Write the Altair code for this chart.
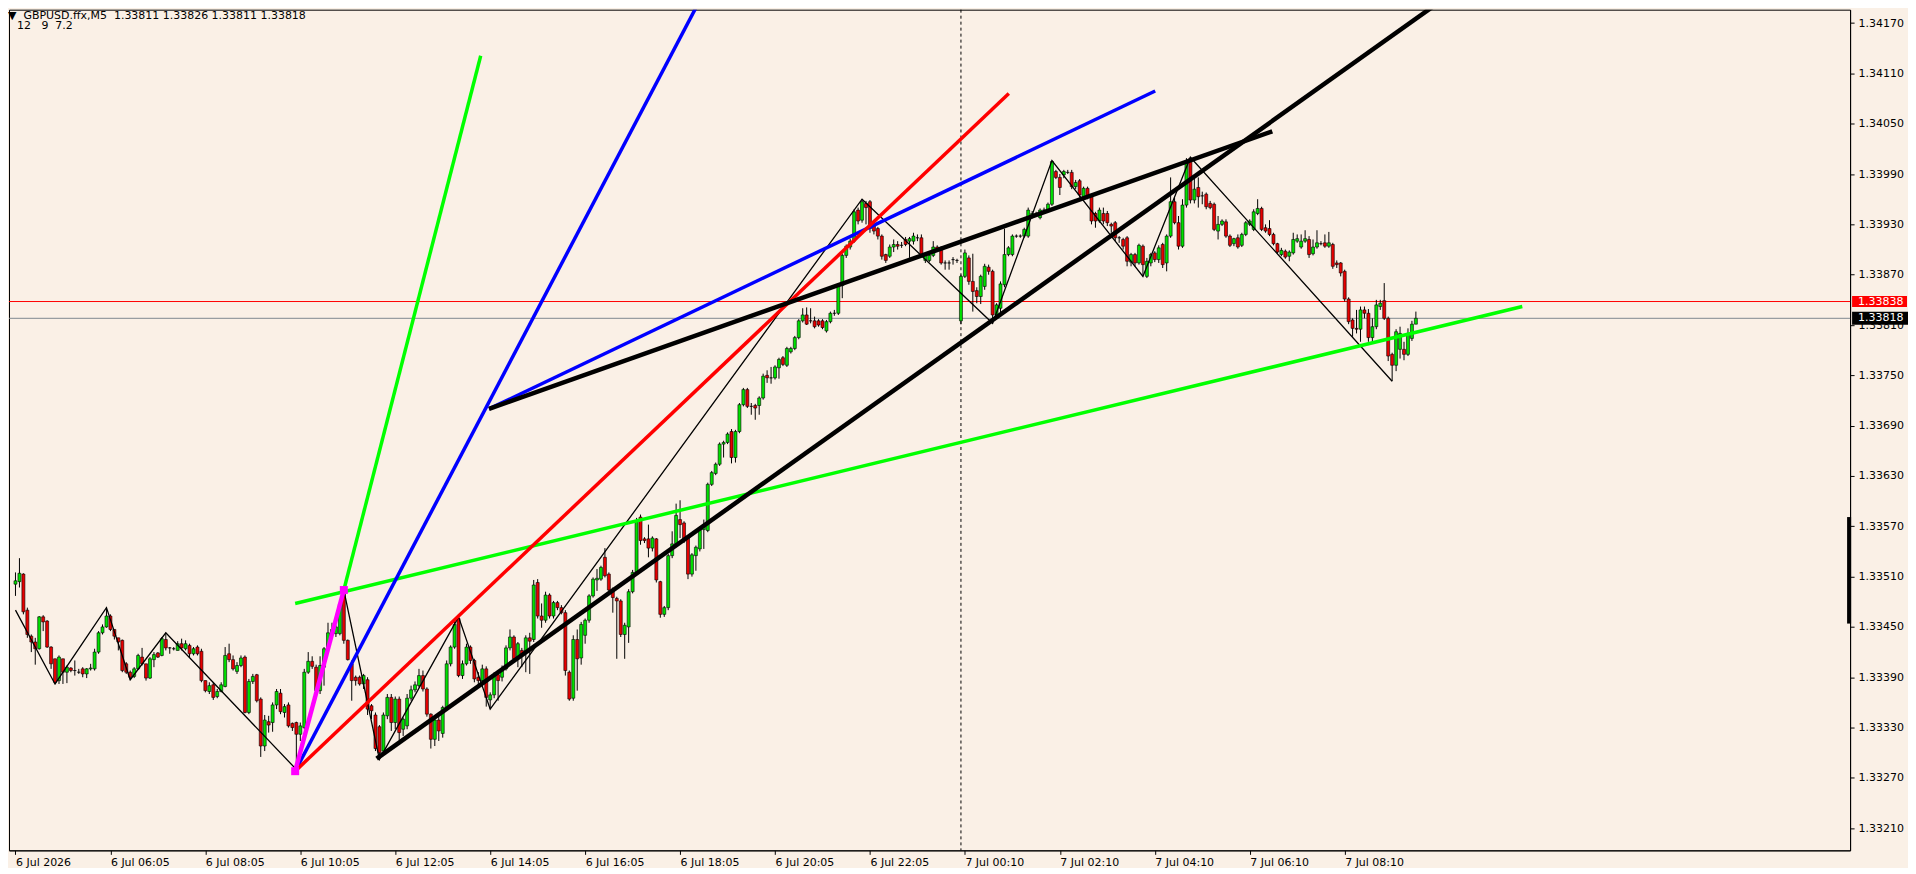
import altair as alt
import pandas as pd
import numpy as np

BASE = 1.33      # prices below are stored in points above 1.33000
PT = 1e-5

OPEN = [
501,504,513,470,439,432,424,462,457,426,
412,386,412,396,401,398,396,400,394,400,
400,420,443,450,463,447,437,434,406,396,
391,400,414,406,389,411,419,416,435,425,
424,422,430,424,428,418,426,421,386,373,
381,367,373,379,418,411,397,404,414,348,
385,393,364,308,337,336,357,371,348,357,
335,336,322,330,396,409,402,374,402,424,
442,442,442,489,434,406,390,390,382,387,
356,345,331,302,344,366,336,364,328,332,
365,375,380,392,376,346,316,339,323,354,
406,426,460,392,406,426,410,390,386,400,
363,369,393,390,400,425,438,412,422,421,
437,435,503,463,458,488,463,479,473,467,
396,365,435,413,440,458,487,506,507,533,
513,495,484,481,441,450,492,515,581,555,
555,544,555,504,465,473,535,549,578,574,
556,513,535,543,566,565,620,633,644,668,
670,683,652,683,715,733,713,714,714,723,
750,747,747,759,771,762,778,782,795,815,
822,815,815,815,815,803,814,824,824,857,
893,903,910,947,935,955,957,928,925,916,
894,892,903,906,905,912,910,910,914,914,
887,887,893,903,902,884,884,888,887,815,
868,890,862,851,844,856,879,874,822,830,
858,894,894,916,916,916,916,940,943,938,
947,947,954,993,986,989,992,992,975,982,
963,973,963,943,934,943,943,930,932,914,
912,914,885,894,884,904,868,884,896,888,
906,884,916,957,932,904,953,1009,959,974,
964,966,955,954,922,930,933,916,907,914,
905,918,930,924,943,949,926,925,918,907,
894,898,892,896,910,903,910,912,895,903,
907,908,904,906,884,884,874,841,816,806,
805,828,824,795,808,832,839,818,775,762,
781,781,775,794,811]

HIGH = [
515,532,514,473,441,437,463,464,458,427,
412,416,412,404,402,410,400,402,401,406,
424,445,453,473,465,447,437,435,408,398,
402,418,425,406,414,420,420,438,443,426,
426,433,436,434,430,426,428,424,386,384,
384,376,384,426,430,416,408,416,416,388,
394,394,366,345,344,360,376,376,358,360,
336,337,336,400,420,415,405,415,426,455,
455,452,480,494,435,410,392,392,394,390,
358,348,333,348,370,370,367,367,342,370,
380,385,400,398,378,347,342,345,356,410,
428,458,462,410,430,428,412,396,405,403,
372,396,396,404,428,447,440,432,425,440,
443,506,507,478,492,490,481,481,476,470,
398,440,447,456,460,489,509,519,523,544,
515,497,486,483,455,495,518,580,584,557,
572,558,556,505,475,537,564,597,601,576,
558,538,547,570,578,622,636,646,670,672,
682,686,685,717,735,735,717,716,725,752,
756,760,762,771,773,784,784,797,817,830,
831,830,820,817,817,816,826,828,859,895,
906,913,948,950,960,958,959,930,927,918,
895,906,912,910,909,915,915,920,918,918,
896,895,910,905,904,887,887,891,889,870,
900,893,895,855,870,883,882,876,836,862,
925,904,918,918,918,926,950,946,945,949,
950,956,1006,995,990,995,995,995,983,984,
975,975,965,945,950,950,946,932,934,916,
914,916,896,896,907,906,890,896,898,905,
908,918,986,962,940,960,1009,1010,986,986,
969,968,958,956,940,936,936,918,914,918,
920,934,936,948,960,951,930,935,920,908,
902,900,899,920,918,918,923,916,912,923,
910,918,921,908,887,885,876,843,818,828,
832,832,829,818,840,840,860,820,777,805,
808,790,806,815,826]

LOW = [
487,497,465,437,420,405,423,445,425,400,
382,382,382,383,396,392,394,390,389,398,
398,418,441,449,445,435,422,396,394,387,
389,399,404,386,388,402,413,415,422,418,
422,422,422,422,414,416,416,384,372,370,
363,365,372,378,408,398,394,402,347,346,
382,360,295,302,324,325,352,346,342,330,
326,280,314,328,394,400,370,370,380,422,
440,438,440,430,410,362,380,380,376,345,
340,302,292,298,340,326,328,315,320,328,
362,372,378,373,343,305,308,314,318,352,
403,424,390,388,404,406,384,378,378,355,
352,365,362,385,398,422,408,402,402,396,
394,432,460,449,455,460,460,470,465,392,
362,362,374,405,430,455,485,493,505,509,
490,467,412,438,412,431,490,513,548,550,
533,540,503,461,462,470,532,547,556,550,
507,510,517,540,543,563,618,631,642,652,
668,645,646,681,713,711,703,697,703,721,
741,740,745,746,761,760,776,780,793,813,
810,812,806,808,805,801,812,821,822,842,
890,900,908,930,932,930,920,918,912,888,
884,890,897,900,902,904,890,906,910,892,
884,885,891,898,882,876,876,882,884,811,
866,858,826,836,835,852,870,812,817,825,
855,892,892,914,914,914,914,937,940,936,
945,945,952,984,965,985,990,972,972,962,
960,960,930,926,932,930,928,920,910,908,
900,880,880,880,882,868,866,880,885,884,
878,874,914,930,900,902,950,955,955,950,
954,948,948,922,912,928,914,903,904,901,
903,916,928,922,941,922,920,916,905,895,
892,889,886,894,908,901,908,890,893,901,
905,902,902,877,878,868,838,811,796,800,
790,818,790,789,805,828,816,767,743,755,
770,768,773,791,811]

CLOSE = [
505,514,468,441,432,424,462,456,426,406,
384,414,396,402,398,398,396,394,400,401,
420,443,450,463,447,439,432,398,396,390,
400,416,406,389,412,417,414,436,425,425,
424,430,425,430,418,424,418,386,374,380,
366,373,381,416,411,400,404,413,348,385,
391,362,308,339,333,357,373,349,355,332,
330,322,332,396,409,403,374,404,424,443,
447,450,477,434,411,386,386,382,392,352,
350,305,300,345,366,336,364,324,340,365,
375,381,392,376,346,316,339,326,354,406,
426,453,392,406,426,410,388,386,400,366,
369,393,386,400,425,438,412,430,417,437,
433,500,463,458,488,463,479,473,467,398,
364,435,412,453,458,487,507,508,521,511,
494,485,481,441,452,492,515,576,553,553,
544,556,506,465,473,535,549,583,572,553,
513,536,545,568,572,620,634,644,668,670,
680,652,683,715,733,713,713,711,723,749,
747,747,760,769,763,782,782,795,815,822,
811,815,808,810,807,814,824,824,857,893,
904,910,945,934,957,950,925,922,916,892,
887,903,906,904,905,906,913,916,914,894,
894,893,903,900,884,884,884,888,887,868,
896,862,850,844,868,880,874,822,834,859,
894,902,916,916,916,924,947,943,943,947,
947,954,1005,986,974,993,992,975,980,965,
973,963,934,934,947,934,932,928,914,914,
904,886,894,884,905,882,886,894,888,902,
882,916,957,932,904,953,1003,959,972,963,
964,951,950,924,930,934,916,905,913,903,
918,932,934,945,949,924,922,918,907,897,
899,891,897,912,913,910,913,894,903,908,
907,904,908,880,882,872,841,814,806,805,
828,824,795,808,834,836,818,773,762,802,
800,775,800,811,818]

TIME_TICK_BARS = [0, 24, 48, 72, 96, 120, 144, 168, 192, 216, 240, 264, 288, 312, 336]
TIME_LABELS = ["6 Jul 2026", "6 Jul 06:05", "6 Jul 08:05", "6 Jul 10:05", "6 Jul 12:05",
               "6 Jul 14:05", "6 Jul 16:05", "6 Jul 18:05", "6 Jul 20:05", "6 Jul 22:05",
               "7 Jul 00:10", "7 Jul 02:10", "7 Jul 04:10", "7 Jul 06:10", "7 Jul 08:10"]
PRICE_TICKS = [1.34170, 1.34110, 1.34050, 1.33990, 1.33930, 1.33870, 1.33810, 1.33750,
               1.33690, 1.33630, 1.33570, 1.33510, 1.33450, 1.33390, 1.33330, 1.33270, 1.33210]

# zigzag vertices (bar index, points)
ZZ_BAR = [0, 10, 23, 29, 38, 71, 83, 92, 112, 120, 214, 247, 262, 285, 297, 348]
ZZ_PT = [470, 382, 473, 387, 443, 280, 494, 292, 462, 352, 960, 812, 1006, 868, 1010, 743]

# trend lines: start bar, start pts, end bar, end pts
GREEN_X1, GREEN_Y1, GREEN_X2, GREEN_Y2 = [83.0, 70.7], [494, 478], [117.6, 380.9], [1131, 832]
BLUE_X1, BLUE_Y1, BLUE_X2, BLUE_Y2 = [70.7, 119.7], [278, 710], [172.3, 288.1], [1191, 1089]
RED_X1, RED_Y1, RED_X2, RED_Y2 = [70.7], [278], [251.1], [1086]
BLACK_X1, BLACK_Y1, BLACK_X2, BLACK_Y2 = [119.7, 91.3], [710, 293], [317.7, 358.7], [1041, 1191]
MAG_X1, MAG_Y1, MAG_X2, MAG_Y2 = [70.7], [278], [83.0], [494]
MAG_PTS_BAR, MAG_PTS_PT = [70.7, 83.0], [278, 494]

ASK_PT = 838
BID_PT = 818
SEPARATOR_BAR = [239]
AXIS_MARK_PT = [581, 454]

NB = "\u00A0"
HEADER_1 = "\u25BC" + NB * 2 + "GBPUSD.ffx,M5" + NB * 2 + "1.33811 1.33826 1.33811 1.33818"
HEADER_2 = "12" + NB * 3 + "9" + NB * 2 + "7.2"

BG = "#FAF0E6"
UP = "#00E000"
DOWN = "#E60000"
FONT = "DejaVu Sans"

def px(v):
    return BASE + np.asarray(v, dtype=float) * PT

cdf = pd.DataFrame({
    "bar": np.arange(len(OPEN)),
    "open": px(OPEN), "high": px(HIGH), "low": px(LOW), "close": px(CLOSE),
})
cdf["dir"] = np.where(cdf["close"] >= cdf["open"], "up", "down")

xsc = alt.Scale(domain=[-0.377, 462.5], nice=False, zero=False)
ysc = alt.Scale(domain=[1.331836, 1.34186], nice=False, zero=False)

label_expr = "[" + ",".join("'%s'" % s for s in TIME_LABELS) + "][round(datum.value/24)]"
X_AX = alt.Axis(values=TIME_TICK_BARS, labelExpr=label_expr, orient="bottom", title=None,
                grid=False, labelAlign="left", labelBaseline="top", tickSize=4, labelPadding=2,
                labelFont=FONT, labelFontSize=11, labelColor="black", tickColor="black",
                domainColor="black", labelOverlap=False, labelFlush=False)
Y_AX = alt.Axis(values=PRICE_TICKS, format=".5f", orient="right", title=None, grid=False,
                tickSize=4, labelPadding=4, labelFont=FONT, labelFontSize=11,
                labelColor="black", tickColor="black", domainColor="black",
                labelOverlap=False, labelFlush=False)

def X(f):
    return alt.X(f, type="quantitative", scale=xsc, axis=X_AX)

def Y(f):
    return alt.Y(f, type="quantitative", scale=ysc, axis=Y_AX)

def seg_df(x1, y1, x2, y2):
    return pd.DataFrame({"x1": x1, "y1": px(y1), "x2": x2, "y2": px(y2)})

def seg_layer(df, color, width):
    return alt.Chart(df).mark_rule(color=color, strokeWidth=width, clip=True).encode(
        x=X("x1"), y=Y("y1"), x2="x2", y2="y2")

hl_df = pd.DataFrame({"p": px([ASK_PT, BID_PT]), "k": ["ask", "bid"]})
ask_line = alt.Chart(hl_df[hl_df.k == "ask"]).mark_rule(color="#FF0000", strokeWidth=1).encode(y=Y("p"))
bid_line = alt.Chart(hl_df[hl_df.k == "bid"]).mark_rule(color="#808890", strokeWidth=1).encode(y=Y("p"))

sep = alt.Chart(pd.DataFrame({"b": SEPARATOR_BAR})).mark_rule(
    color="black", strokeWidth=1, strokeDash=[3, 3]).encode(x=X("b"))

wick = alt.Chart(cdf).mark_rule(color="black", strokeWidth=1, clip=True).encode(
    x=X("bar"), y=Y("low"), y2="high")
body = alt.Chart(cdf).mark_bar(size=3, stroke="black", strokeWidth=0.6, clip=True).encode(
    x=X("bar"), y=Y("open"), y2="close",
    color=alt.Color("dir:N", scale=alt.Scale(domain=["up", "down"], range=[UP, DOWN]), legend=None))

zz_df = pd.DataFrame({"i": np.arange(len(ZZ_BAR)), "b": ZZ_BAR, "p": px(ZZ_PT)})
zigzag = alt.Chart(zz_df).mark_line(color="black", strokeWidth=1.3, clip=True).encode(
    x=X("b"), y=Y("p"), order="i:Q")

green = seg_layer(seg_df(GREEN_X1, GREEN_Y1, GREEN_X2, GREEN_Y2), "#00FF00", 3.5)
blue = seg_layer(seg_df(BLUE_X1, BLUE_Y1, BLUE_X2, BLUE_Y2), "#0000FF", 3.5)
red = seg_layer(seg_df(RED_X1, RED_Y1, RED_X2, RED_Y2), "#FF0000", 3.5)
black = seg_layer(seg_df(BLACK_X1, BLACK_Y1, BLACK_X2, BLACK_Y2), "black", 4.5)
magenta = seg_layer(seg_df(MAG_X1, MAG_Y1, MAG_X2, MAG_Y2), "#FF00FF", 4.5)
mag_pts = alt.Chart(pd.DataFrame({"b": MAG_PTS_BAR, "p": px(MAG_PTS_PT)})).mark_square(
    color="#FF00FF", size=64, opacity=1, filled=True).encode(x=X("b"), y=Y("p"))

axmark = alt.Chart(pd.DataFrame({"a": px([AXIS_MARK_PT[0]]), "b": px([AXIS_MARK_PT[1]])})).mark_rule(
    color="black", strokeWidth=4, clip=False).encode(x=alt.value(1843), y=Y("a"), y2="b")

tag_df = pd.DataFrame({"p": px([ASK_PT, BID_PT]), "t": ["1.33838", "1.33818"]})
ask_box = alt.Chart(tag_df.iloc[[0]]).mark_tick(orient="horizontal", size=55, thickness=11,
    color="#FF0000", opacity=1, clip=False).encode(x=alt.value(1873.5), y=Y("p"))
bid_box = alt.Chart(tag_df.iloc[[1]]).mark_tick(orient="horizontal", size=56, thickness=13,
    color="black", opacity=1, clip=False).encode(x=alt.value(1874), y=Y("p"))
tag_text = alt.Chart(tag_df).mark_text(align="left", baseline="middle", font=FONT, fontSize=11,
    color="white", clip=False).encode(x=alt.value(1852), y=Y("p"), text="t:N")

h1 = alt.Chart(pd.DataFrame({"t": [HEADER_1]})).mark_text(
    align="left", baseline="alphabetic", font=FONT, fontSize=11, color="black").encode(
    x=alt.value(-1), y=alt.value(9), text="t:N")
h2 = alt.Chart(pd.DataFrame({"t": [HEADER_2]})).mark_text(
    align="left", baseline="alphabetic", font=FONT, fontSize=11, color="black").encode(
    x=alt.value(8), y=alt.value(19.5), text="t:N")

chart = alt.layer(
    ask_line, bid_line, sep, wick, body, zigzag, green, blue, red, black, magenta, mag_pts,
    axmark, ask_box, bid_box, tag_text, h1, h2
).properties(
    width=1844, height=842, padding=0, background=BG
).configure_view(stroke="black", strokeWidth=1)

chart.save("out.html", embed_options={"renderer": "svg", "actions": False})
